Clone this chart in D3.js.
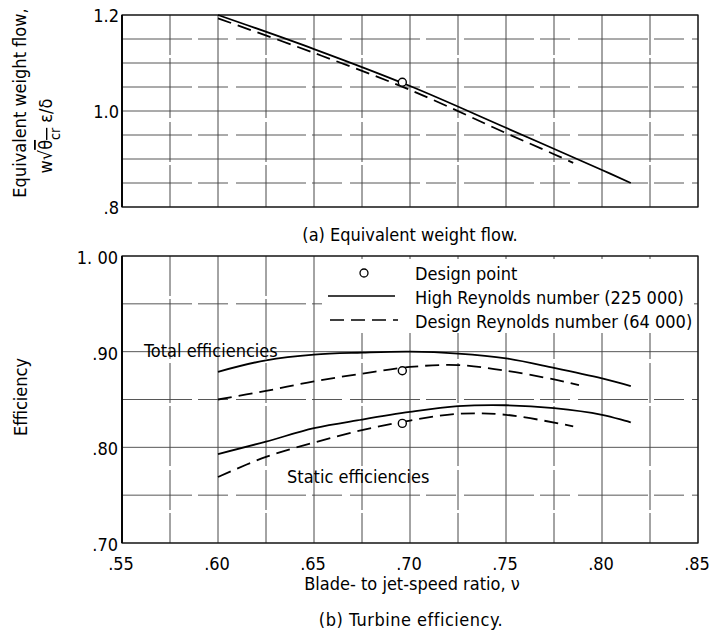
<!DOCTYPE html>
<html>
<head>
<meta charset="utf-8">
<script src="https://cdn.jsdelivr.net/npm/d3@7"></script>
<style>
  body { margin: 0; background: #fff; }
  svg text { font-family: "DejaVu Sans Condensed", "DejaVu Sans", sans-serif; fill: #000; }
</style>
</head>
<body>
<div id="chart"></div>
<script>
(function () {
  // x axis (shared)
  const xTicks = [0.55, 0.60, 0.65, 0.70, 0.75, 0.80, 0.85];
  const xTickLabels = [".55", ".60", ".65", ".70", ".75", ".80", ".85"];

  // (a) equivalent weight flow
  const flowTicks = [1.2, 1.0, 0.8];
  const flowTickLabels = ["1.2", "1.0", ".8"];
  const flowHighX = [0.60, 0.65, 0.70, 0.75, 0.80, 0.815];
  const flowHighY = [1.200, 1.129, 1.052, 0.965, 0.877, 0.850];
  const flowDesignX = [0.60, 0.65, 0.70, 0.75, 0.775, 0.785];
  const flowDesignY = [1.193, 1.121, 1.044, 0.954, 0.910, 0.892];
  const flowPoint = [0.696, 1.060];

  // (b) turbine efficiency
  const effTicks = [1.00, 0.90, 0.80, 0.70];
  const effTickLabels = ["1. 00", ".90", ".80", ".70"];
  const effX = [0.60, 0.625, 0.65, 0.675, 0.70, 0.725, 0.75, 0.775, 0.80, 0.815];
  const totalHigh = [0.879, 0.891, 0.897, 0.899, 0.900, 0.898, 0.893, 0.883, 0.872, 0.864];
  const effDesignX = [0.60, 0.625, 0.65, 0.675, 0.70, 0.725, 0.75, 0.775, 0.788];
  const totalDesign = [0.850, 0.859, 0.869, 0.877, 0.884, 0.886, 0.880, 0.871, 0.865];
  const staticHigh = [0.793, 0.806, 0.820, 0.829, 0.837, 0.843, 0.844, 0.841, 0.834, 0.826];
  const staticDesignX = [0.60, 0.625, 0.65, 0.675, 0.70, 0.725, 0.75, 0.785];
  const staticDesign = [0.769, 0.790, 0.805, 0.818, 0.828, 0.835, 0.834, 0.822];
  const effPointsX = [0.696, 0.696];
  const effPointsY = [0.880, 0.825];

  const legendLabels = ["Design point", "High Reynolds number (225 000)", "Design Reynolds number (64 000)"];

  const W = 713, H = 638;
  const svg = d3.select("#chart").append("svg").attr("width", W).attr("height", H);

  const x = d3.scaleLinear().domain([0.55, 0.85]).range([122, 698]);
  const yA = d3.scaleLinear().domain([0.8, 1.2]).range([207, 15]);
  const yB = d3.scaleLinear().domain([0.70, 1.00]).range([543, 256]);

  const gridX = d3.range(0.55, 0.8501, 0.025);

  function panel(y, yGrid) {
    const g = svg.append("g");
    g.selectAll(".vg").data(gridX).join("line")
      .attr("x1", d => x(d)).attr("x2", d => x(d))
      .attr("y1", y.range()[1]).attr("y2", y.range()[0])
      .attr("stroke", "#333").attr("stroke-width", 0.9)
      .attr("stroke-dasharray", (d, i) => i % 2 ? "40,3,60,4" : null);
    g.selectAll(".hg").data(yGrid).join("line")
      .attr("x1", x.range()[0]).attr("x2", x.range()[1])
      .attr("y1", d => y(d)).attr("y2", d => y(d))
      .attr("stroke", "#444").attr("stroke-width", 0.9)
      .attr("stroke-dasharray", (d, i) => i % 2 ? "70,6,30,8" : null);
    // frame
    g.append("rect")
      .attr("x", x.range()[0]).attr("y", y.range()[1])
      .attr("width", x.range()[1] - x.range()[0])
      .attr("height", y.range()[0] - y.range()[1])
      .attr("fill", "none").attr("stroke", "#111").attr("stroke-width", 1.2);
    g.append("line")
      .attr("x1", x.range()[0]).attr("x2", x.range()[0])
      .attr("y1", y.range()[1]).attr("y2", y.range()[0])
      .attr("stroke", "#000").attr("stroke-width", 1.8);
    return g;
  }

  const gA = panel(yA, d3.range(0.8, 1.2001, 0.05));
  const gB = panel(yB, d3.range(0.70, 1.0001, 0.05));

  const line = (xs, ys, y) => d3.line()
    .x((d, i) => x(xs[i])).y(d => y(d))
    .curve(d3.curveCatmullRom.alpha(0.5))(ys);

  function draw(g, xs, ys, y, dashed) {
    g.append("path").attr("d", line(xs, ys, y))
      .attr("fill", "none").attr("stroke", "#000").attr("stroke-width", 1.8)
      .attr("stroke-dasharray", dashed ? "14,7" : null);
  }

  draw(gA, flowHighX, flowHighY, yA, false);
  draw(gA, flowDesignX, flowDesignY, yA, true);
  gA.append("circle").attr("cx", x(flowPoint[0])).attr("cy", yA(flowPoint[1])).attr("r", 4)
    .attr("fill", "#fff").attr("stroke", "#000").attr("stroke-width", 1.4);

  draw(gB, effX, totalHigh, yB, false);
  draw(gB, effDesignX, totalDesign, yB, true);
  draw(gB, effX, staticHigh, yB, false);
  draw(gB, staticDesignX, staticDesign, yB, true);
  gB.selectAll(".dp").data(effPointsX).join("circle")
    .attr("cx", d => x(d)).attr("cy", (d, i) => yB(effPointsY[i])).attr("r", 4)
    .attr("fill", "#fff").attr("stroke", "#000").attr("stroke-width", 1.4);

  // y tick labels
  svg.selectAll(".ta").data(flowTicks).join("text")
    .attr("x", 119).attr("y", d => yA(d) + 7)
    .attr("text-anchor", "end").style("font-size", "18px")
    .text((d, i) => flowTickLabels[i]);
  svg.selectAll(".tb").data(effTicks).join("text")
    .attr("x", 118).attr("y", d => yB(d) + 8)
    .attr("text-anchor", "end").style("font-size", "18px")
    .text((d, i) => effTickLabels[i]);

  // x tick labels
  svg.selectAll(".tx").data(xTicks).join("text")
    .attr("x", d => x(d) - 1).attr("y", 570)
    .attr("text-anchor", "middle").style("font-size", "18px")
    .text((d, i) => xTickLabels[i]);

  // axis titles
  svg.append("text").attr("transform", "translate(26,103) rotate(-90)")
    .attr("text-anchor", "middle").style("font-size", "18px")
    .text("Equivalent weight flow,");
  const t2 = svg.append("text").attr("transform", "translate(52,136) rotate(-90)")
    .attr("text-anchor", "middle").style("font-size", "18px");
  t2.append("tspan").text("w\u221A");
  t2.append("tspan").style("text-decoration", "overline").text("\u03B8");
  t2.append("tspan").attr("baseline-shift", "sub").style("font-size", "14px")
    .style("text-decoration", "overline").text("cr");
  t2.append("tspan").text(" \u03B5/\u03B4");

  svg.append("text").attr("transform", "translate(27,397) rotate(-90)")
    .attr("text-anchor", "middle").style("font-size", "18px").text("Efficiency");

  svg.append("text").attr("x", 410).attr("y", 241).attr("text-anchor", "middle")
    .style("font-size", "18px").text("(a) Equivalent weight flow.");
  svg.append("text").attr("x", 412).attr("y", 590).attr("text-anchor", "middle")
    .style("font-size", "18px").text("Blade- to jet-speed ratio, \u03BD");
  svg.append("text").attr("x", 411).attr("y", 626).attr("text-anchor", "middle")
    .style("font-size", "18px").style("letter-spacing", "0.5px").text("(b) Turbine efficiency.");

  // curve annotations
  svg.append("text").attr("x", 144).attr("y", 357).style("font-size", "18px")
    .text("Total efficiencies");
  svg.append("text").attr("x", 287).attr("y", 483).style("font-size", "18px")
    .text("Static efficiencies");

  // legend
  const lg = svg.append("g");
  lg.append("rect").attr("x", 322).attr("y", 259).attr("width", 372).attr("height", 74).attr("fill", "#fff");
  lg.append("circle").attr("cx", 364).attr("cy", 273).attr("r", 4)
    .attr("fill", "#fff").attr("stroke", "#000").attr("stroke-width", 1.3);
  lg.append("line").attr("x1", 328).attr("x2", 395).attr("y1", 296).attr("y2", 296)
    .attr("stroke", "#000").attr("stroke-width", 1.6);
  lg.append("line").attr("x1", 330).attr("x2", 398).attr("y1", 320).attr("y2", 320)
    .attr("stroke", "#000").attr("stroke-width", 1.6).attr("stroke-dasharray", "14,7");
  lg.selectAll(".lt").data(legendLabels).join("text")
    .attr("x", 415).attr("y", (d, i) => 280 + i * 24)
    .style("font-size", "18px").text(d => d);
})();
</script>
</body>
</html>
